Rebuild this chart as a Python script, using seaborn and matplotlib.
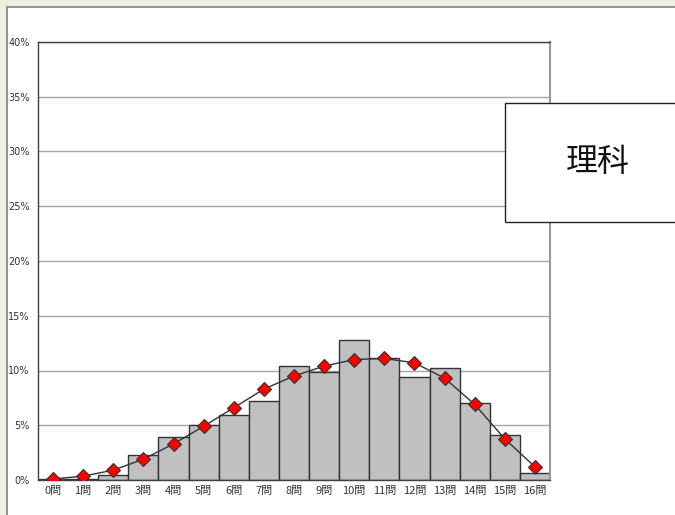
import matplotlib
matplotlib.use("Agg")
import matplotlib.pyplot as plt
import seaborn as sns
import numpy as np
import pandas as pd
from matplotlib.patches import Rectangle
from matplotlib.ticker import FuncFormatter

categories = [f"{i}問" for i in range(17)]
bar_values = [0.05, 0.1, 0.45, 2.25, 3.95, 5.0, 5.9, 7.25, 10.4, 9.85, 12.8, 11.1, 9.45, 10.2, 7.0, 4.15, 0.65]
line_values = [0.1, 0.35, 0.9, 1.9, 3.3, 4.9, 6.6, 8.3, 9.5, 10.4, 11.0, 11.1, 10.7, 9.3, 6.9, 3.75, 1.2]
y_ticks = [0, 5, 10, 15, 20, 25, 30, 35, 40]
title_text = "理科"

sns.set_theme(style="white")
plt.rcParams['font.family'] = ['Noto Sans CJK JP', 'DejaVu Sans']

W, H = 675, 515
fig = plt.figure(figsize=(W / 100, H / 100), dpi=100)
fig.patch.set_facecolor("#EBF1DE")

# white chart panel
fig.patches.append(Rectangle((6.5 / W, -0.01), 1 - 6.5 / W + 0.01, 1 - 7 / H + 0.01,
                             transform=fig.transFigure, facecolor="white",
                             edgecolor="#808080", linewidth=1.2, zorder=-5))

ax = fig.add_axes([38 / W, (H - 480) / H, 512 / W, 438 / H])
ax.set_zorder(1)
ax.set_facecolor("white")

df = pd.DataFrame({"cat": categories, "bar": bar_values, "line": line_values})

sns.barplot(data=df, x="cat", y="bar", color="#C0C0C0", width=1.0,
            edgecolor="#333333", linewidth=1.0, saturation=1, ax=ax, zorder=2)
sns.lineplot(data=df, x="cat", y="line", sort=False, color="#333333",
             linewidth=1.0, marker="D", markersize=7,
             markerfacecolor="#FF0000", markeredgecolor="#333333",
             markeredgewidth=0.8, ax=ax, zorder=3)

ax.set_xlim(-0.5, len(categories) - 0.5)
ax.set_ylim(0, 40)
ax.set_yticks(y_ticks)
ax.grid(axis="y", color="#A6A6A6", linewidth=1.0, zorder=0)
ax.set_axisbelow(True)
ax.set_xlabel("")
ax.set_ylabel("")
ax.tick_params(axis="x", length=0, pad=4)
ax.tick_params(axis="y", length=0, pad=6)
ax.set_xticks(range(len(categories)))
ax.set_xticklabels(categories, fontsize=8, color="#333333",
                   family=["Noto Sans CJK JP", "DejaVu Sans"])
ax.set_yticklabels([f"{v}%" for v in y_ticks], fontsize=7, color="#333333",
                   family=["Liberation Sans Narrow", "DejaVu Sans"])

for side in ["left", "bottom", "top"]:
    ax.spines[side].set_color("#404040")
    ax.spines[side].set_linewidth(1.0)
ax.spines["right"].set_color("#999999")
ax.spines["right"].set_linewidth(1.5)

# title box
fig.patches.append(Rectangle((505 / W, (H - 222) / H), 175 / W, 119 / H,
                             transform=fig.transFigure, facecolor="white",
                             edgecolor="#222222", linewidth=1.0, zorder=5))
fig.text(598 / W, (H - 162) / H, title_text, fontsize=23, ha="center", va="center",
         color="#111111", zorder=6)

fig.savefig("out.png", dpi=100, facecolor=fig.get_facecolor())
